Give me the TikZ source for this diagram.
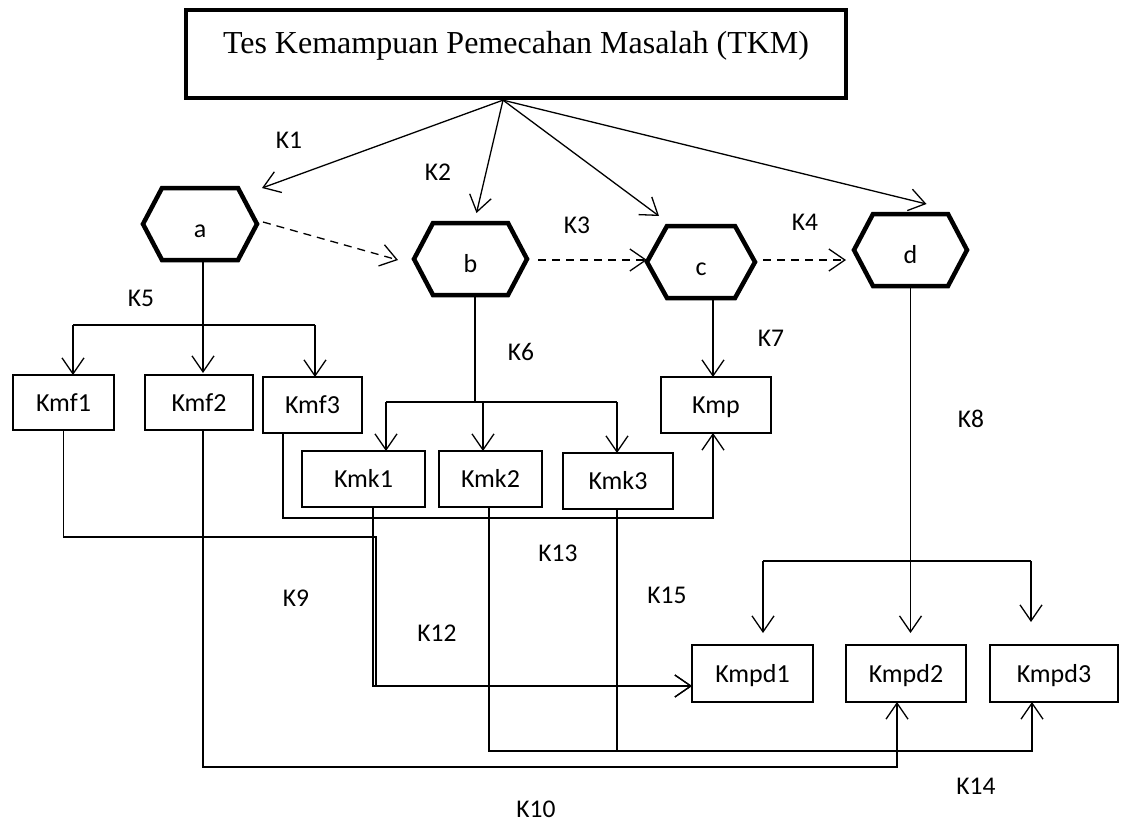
\documentclass[tikz,border=0pt]{standalone}
\usepackage{fontspec}
\setmainfont{Liberation Serif}
\newfontfamily\labelfont{Carlito}
\usetikzlibrary{arrows.meta}

% hexagon outline drawn around a named node: #1 node, #2 chamfer width
\newcommand\hexpath[2]{%
  \draw[hexline] (#1.west) -- ([xshift=#2]#1.north west) -- ([xshift=-#2]#1.north east)
    -- (#1.east) -- ([xshift=-#2]#1.south east) -- ([xshift=#2]#1.south west) -- cycle;}

\begin{document}
\begin{tikzpicture}[x=1pt,y=-1pt,
  conn/.style={line width=1.3pt},
  arr/.style={conn,-{Straight Barb[length=16pt,width=22pt]}},
  dasharr/.style={arr,dash pattern=on 8pt off 6pt},
  box/.style={draw,line width=2.3pt,inner sep=0pt,outer sep=0pt,minimum height=56pt,
    text height=17pt,text depth=0pt,font=\labelfont\fontsize{26}{30}\selectfont},
  hexnode/.style={inner sep=0pt,outer sep=0pt,minimum width=113pt,minimum height=72pt,
    text height=26pt,text depth=0pt,font=\labelfont\fontsize{26}{30}\selectfont},
  hexline/.style={line width=4.5pt},
  klabel/.style={inner sep=0pt,font=\labelfont\fontsize{25.5}{30}\selectfont}
]
\useasboundingbox (0,0) rectangle (1122,823);

% title
\node[draw,line width=4.3pt,minimum width=660pt,minimum height=88pt,inner sep=0pt,
  text height=22pt,text depth=24pt,font=\fontsize{32}{38}\selectfont] (T) at (516,54)
  {Tes Kemampuan Pemecahan Masalah (TKM)};

% hexagons
\node[hexnode,minimum width=114pt] (a) at (200,224) {a};
\node[hexnode] (b) at (470.5,259) {b};
\node[hexnode,minimum width=108pt] (c) at (701,262) {c};
\node[hexnode] (d) at (910.5,250) {d};
\hexpath{a}{19pt}
\hexpath{b}{19pt}
\hexpath{c}{20pt}
\hexpath{d}{19pt}

% boxes
\node[box,minimum width=101pt,minimum height=55pt] (Kmf1) at (63.5,402.5) {Kmf1};
\node[box,minimum width=108pt,minimum height=55pt] (Kmf2) at (199,402.5) {Kmf2};
\node[box,minimum width=99pt] (Kmf3) at (312.5,405) {Kmf3};
\node[box,minimum width=123pt] (Kmk1) at (363.5,479) {Kmk1};
\node[box,minimum width=103pt] (Kmk2) at (490.5,479) {Kmk2};
\node[box,minimum width=110pt] (Kmk3) at (618,481) {Kmk3};
\node[box,minimum width=110pt] (Kmp) at (716,405) {Kmp};
\node[box,minimum width=121pt,minimum height=57pt] (Kmpd1) at (752.5,673.5) {Kmpd1};
\node[box,minimum width=120pt,minimum height=57pt] (Kmpd2) at (906,673.5) {Kmpd2};
\node[box,minimum width=128pt,minimum height=57pt] (Kmpd3) at (1054,673.5) {Kmpd3};

% from the test to the four stages
\coordinate (apex) at ([xshift=-13pt]T.south);
\draw[arr] (apex) -- ([xshift=5pt]a.north east);
\draw[arr] (apex) -- ([shift={(6,-10)}]b.north);
\draw[arr] (apex) -- ([shift={(12,-10)}]c.north west);
\draw[arr] (apex) -- ([shift={(16,-10)}]d.north);

% dashed sequence a -> b -> c -> d
\draw[dasharr] ([shift={(6,-2)}]a.east) -- ([shift={(-16,1)}]b.west);
\draw[dasharr] ([shift={(11,1)}]b.east) -- ([shift={(0,-2)}]c.west);
\draw[dasharr] ([shift={(8,-2)}]c.east) -- ([shift={(-8,10)}]d.west);

% a -> Kmf1..3
\coordinate (k5l) at (73,325);
\coordinate (k5r) at (315,325);
\draw[arr] ([xshift=3pt]a.south) -- ([shift={(4,-2)}]Kmf2.north);
\draw[conn] (k5l) -- (k5r);
\draw[arr] (k5l) -- (k5l |- Kmf1.north);
\draw[arr] (k5r) -- (k5r |- Kmf3.north);

% b -> Kmk1..3
\coordinate (k6) at (475,402);
\coordinate (k6l) at (386,402);
\coordinate (k6m) at (483,402);
\coordinate (k6r) at (617,402);
\draw[conn] ([xshift=4.5pt]b.south) -- (k6);
\draw[conn] (k6l) -- (k6r);
\draw[arr] (k6l) -- (k6l |- Kmk1.north);
\draw[arr] (k6m) -- (k6m |- Kmk2.north);
\draw[arr] (k6r) -- (k6r |- Kmk3.north);

% c -> Kmp
\coordinate (cdn) at ([xshift=12pt]c.south);
\draw[arr] (cdn) -- (cdn |- Kmp.north);

% d -> Kmpd1..3
\coordinate (k8tip) at (910.5,633);
\coordinate (k8l) at (763,561);
\coordinate (k8r) at (1031,561);
\draw[arr] (d.south) -- (k8tip);
\draw[conn] (k8l) -- (k8r);
\draw[arr] (k8l) -- (k8l |- k8tip);
\draw[arr] (k8r) -- ++(0,61);

% Kmf3 -> Kmp
\draw[arr] ([xshift=-29.5pt]Kmf3.south) -- ++(0,85) -| ([xshift=-3pt]Kmp.south);

% Kmf1, Kmk1, Kmk3 -> Kmpd1
\coordinate (pd1in) at ([yshift=-12.5pt]Kmpd1.west);
\coordinate (k9c) at (376,537);
\draw[arr] (Kmf1.south) |- (k9c) |- (pd1in);
\draw[arr] ([xshift=9.5pt]Kmk1.south) |- (pd1in);
\coordinate (k15) at ([xshift=-1pt]Kmk3.south);
\draw[conn] (k15) -- ++(0,242);
\draw[line width=2.6pt] (k15 |- pd1in) -- ([xshift=-8pt]pd1in);

% Kmk2 -> Kmpd3
\coordinate (k14) at ([xshift=-1.5pt]Kmk2.south);
\coordinate (pd3in) at ([xshift=-22pt]Kmpd3.south);
\draw[arr] (k14) -- ++(0,244) -| (pd3in);

% Kmf2 -> Kmpd2
\coordinate (k10) at ([xshift=4pt]Kmf2.south);
\coordinate (pd2in) at ([xshift=-9pt]Kmpd2.south);
\draw[arr] (k10) -- ++(0,337) -| (pd2in);

% connection labels
\node[klabel] (l1) at (289,140) {K1};
\node[klabel] (l2) at (438,172) {K2};
\node[klabel] (l3) at (577,225) {K3};
\node[klabel] (l4) at (805,222) {K4};
\node[klabel] (l5) at (141,298) {K5};
\node[klabel] (l6) at (521,352) {K6};
\node[klabel] (l7) at (771,338) {K7};
\node[klabel] (l8) at (971,419) {K8};
\node[klabel] (l9) at (296,598) {K9};
\node[klabel] (l10) at (536,809) {K10};
\node[klabel] (l12) at (437,633) {K12};
\node[klabel] (l13) at (558,553) {K13};
\node[klabel] (l14) at (976,786) {K14};
\node[klabel] (l15) at (667,595) {K15};
\end{tikzpicture}
\end{document}
